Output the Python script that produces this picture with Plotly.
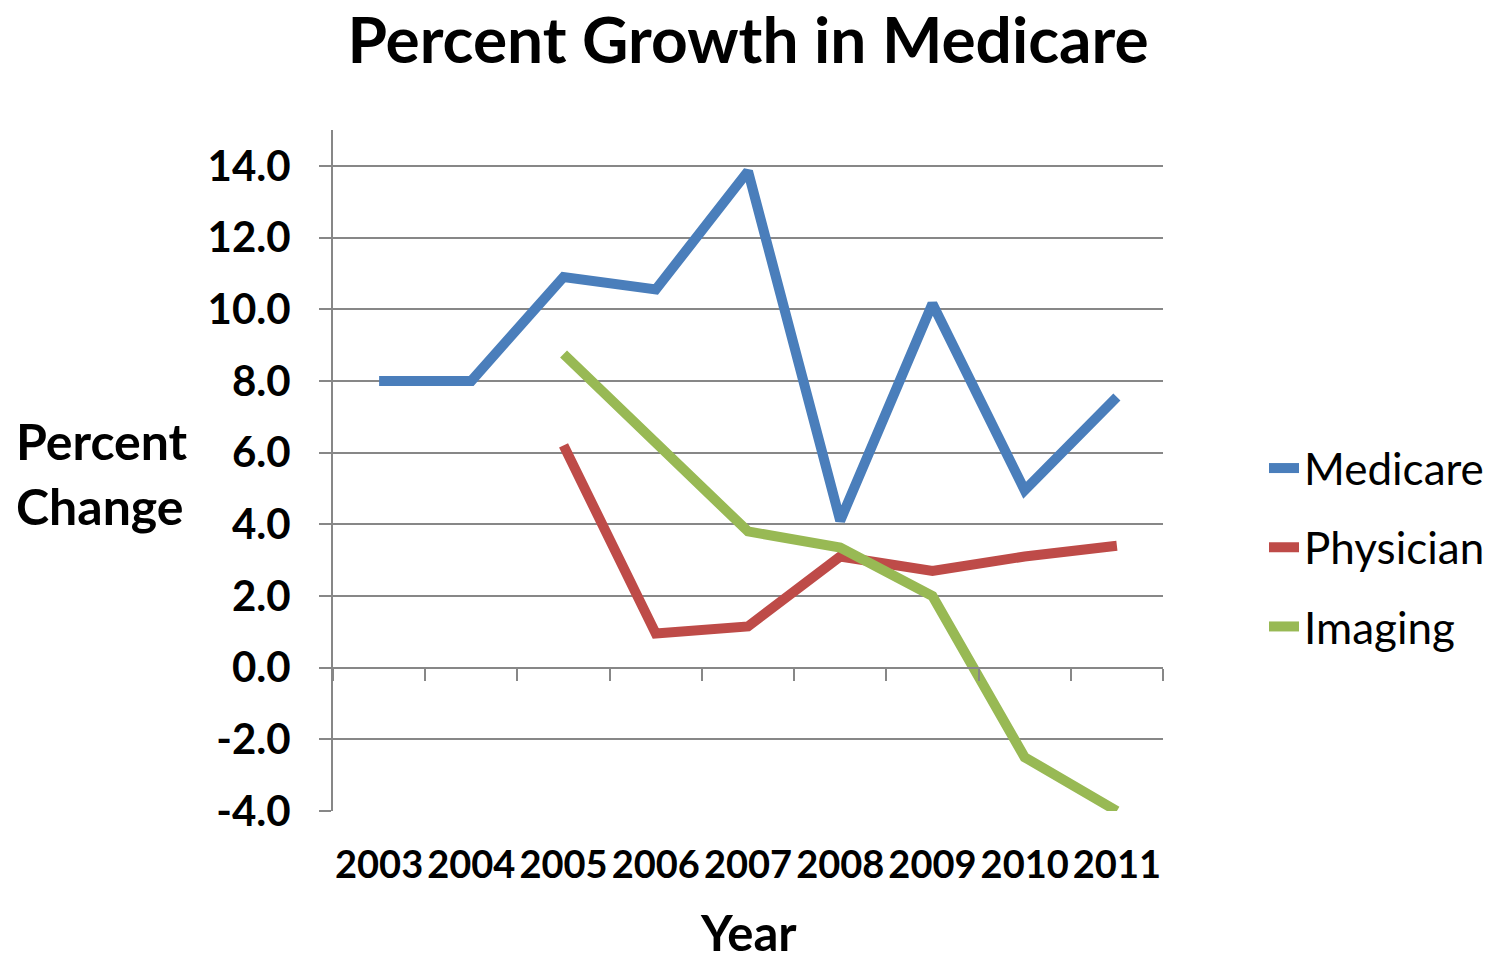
import plotly.graph_objects as go

years = ["2003", "2004", "2005", "2006", "2007", "2008", "2009", "2010", "2011"]
medicare = [8.0, 8.0, 10.9, 10.55, 13.85, 4.1, 10.15, 4.95, 7.55]
physician = [None, None, 6.2, 0.95, 1.15, 3.1, 2.7, 3.1, 3.4]
imaging = [None, None, 8.75, 6.3, 3.8, 3.35, 2.0, -2.5, -4.0]
y_ticks = [-4, -2, 0, 2, 4, 6, 8, 10, 12, 14]

FONT = "Lato"
GRID = "#878787"

fig = go.Figure()
for name, vals, color in [("Medicare", medicare, "#4A7EBB"),
                          ("Physician", physician, "#BE4B48"),
                          ("Imaging", imaging, "#98B954")]:
    fig.add_trace(go.Scatter(x=years, y=vals, name=name, mode="lines",
                             legendgroup=name,
                             line=dict(color=color, width=10),
                             connectgaps=False))

# helper trace for the category axis drawn at y = 0
fig.add_trace(go.Scatter(x=years, y=[None] * len(years), xaxis="x2",
                         showlegend=False, hoverinfo="skip"))

fig.update_layout(
    width=1490, height=960,
    paper_bgcolor="white", plot_bgcolor="white",
    margin=dict(l=333, r=327, t=130, b=149, autoexpand=False),
    title=dict(text="<b>Percent Growth in Medicare</b>", x=0.5, xref="paper",
               y=1 - 41 / 960, yref="container", yanchor="middle",
               font=dict(family=FONT, size=64, color="black")),
    font=dict(family=FONT, color="black"),
    xaxis=dict(type="category", categoryorder="array", categoryarray=years,
               range=[-0.5, 8.5], showgrid=False, showline=False, ticks="",
               tickfont=dict(family=FONT, size=38, color="black", weight="bold"),
               ticklabelstandoff=28),
    xaxis2=dict(type="category", categoryorder="array", categoryarray=years,
                overlaying="x", matches="x", anchor="free",
                position=4 / 19, side="bottom",
                showline=True, linecolor=GRID, linewidth=2,
                ticks="outside", tickson="boundaries", ticklen=12,
                tickwidth=2, tickcolor=GRID, showticklabels=False,
                showgrid=False),
    yaxis=dict(range=[-4, 15], tickvals=y_ticks,
               ticktext=[f"{v:.1f}" for v in y_ticks],
               showgrid=True, gridcolor=GRID, gridwidth=2,
               zeroline=True, zerolinecolor=GRID, zerolinewidth=2,
               showline=True, linecolor=GRID, linewidth=2,
               ticks="outside", ticklen=12, tickwidth=2, tickcolor=GRID,
               ticklabelstandoff=20,
               tickfont=dict(family=FONT, size=42, color="black", weight="bold")),
    legend=dict(x=1.1217, xanchor="left", y=0.387, yanchor="middle",
                font=dict(family=FONT, size=44, color="black"),
                tracegroupgap=19, traceorder="grouped",
                bgcolor="rgba(0,0,0,0)"),
    showlegend=True,
)

fig.add_annotation(text="<b>Percent<br>Change</b>", xref="paper", yref="paper",
                   x=-0.384, y=0.496, xanchor="left", yanchor="middle",
                   align="left", showarrow=False,
                   font=dict(family=FONT, size=50, color="black"))
fig.add_annotation(text="<b>Year</b>", xref="paper", yref="paper",
                   x=0.5, y=-0.1775, xanchor="center", yanchor="middle",
                   showarrow=False,
                   font=dict(family=FONT, size=49, color="black"))

fig.write_html("out.html")
